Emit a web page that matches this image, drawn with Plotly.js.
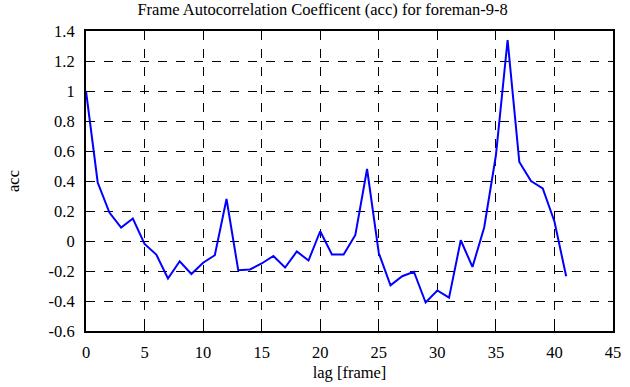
<!DOCTYPE html>
<html>
<head>
<meta charset="utf-8">
<script src="https://cdn.plot.ly/plotly-3.0.1.min.js"></script>
<style>html,body{margin:0;padding:0;background:#fff;}#chart{width:630px;height:387px;}</style>
</head>
<body>
<div id="chart"></div>
<script>
var lags = [0,1,2,3,4,5,6,7,8,9,10,11,12,13,14,15,16,17,18,19,20,21,22,23,24,25,26,27,28,29,30,31,32,33,34,35,36,37,38,39,40,41];
var acc = [1.0,0.39,0.19,0.09,0.15,-0.02,-0.09,-0.25,-0.135,-0.22,-0.145,-0.095,0.28,-0.195,-0.19,-0.15,-0.10,-0.177,-0.07,-0.13,0.065,-0.09,-0.09,0.04,0.48,-0.08,-0.295,-0.235,-0.205,-0.41,-0.33,-0.378,0.005,-0.173,0.09,0.57,1.34,0.527,0.40,0.35,0.13,-0.235];
var xTickVals = [0,5,10,15,20,25,30,35,40,45];
var xTickText = ["0","5","10","15","20","25","30","35","40","45"];
var yTickVals = [1.4,1.2,1,0.8,0.6,0.4,0.2,0,-0.2,-0.4,-0.6];
var yTickText = ["1.4","1.2","1","0.8","0.6","0.4","0.2","0","-0.2","-0.4","-0.6"];
var titleText = "Frame Autocorrelation Coefficent (acc) for foreman-9-8";
var xTitle = "lag [frame]";
var yTitle = "acc";

function serif() { return {family: "Liberation Serif", size: 16.5, color: "#000"}; }
function axisCommon() {
  return {
    showline: true, linecolor: "#000", linewidth: 2, mirror: "ticks",
    ticks: "inside", ticklen: 5, tickwidth: 1, tickcolor: "#000",
    showgrid: true, gridcolor: "#000", gridwidth: 1, griddash: "dash",
    zeroline: false, tickfont: serif()
  };
}
var layout = {
  width: 630, height: 387,
  margin: {l: 86, r: 17, t: 31, b: 56},
  paper_bgcolor: "#fff", plot_bgcolor: "#fff",
  font: serif(),
  showlegend: false,
  title: {text: titleText, font: serif(), x: 0.512, xanchor: "center", y: 0.975, yanchor: "middle"},
  xaxis: Object.assign(axisCommon(), {
    range: [0, 45], tickmode: "array", tickvals: xTickVals, ticktext: xTickText,
    ticklabelstandoff: 5,
    title: {text: xTitle, font: serif(), standoff: 6}
  }),
  yaxis: Object.assign(axisCommon(), {
    range: [-0.6, 1.4], tickmode: "array", tickvals: yTickVals, ticktext: yTickText,
    ticklabelstandoff: 6,
    title: {text: yTitle, font: serif(), standoff: 25}
  })
};
var trace = {x: lags, y: acc, type: "scatter", mode: "lines", line: {color: "#0000ff", width: 2}};
Plotly.newPlot("chart", [trace], layout, {staticPlot: true, displayModeBar: false});
</script>
</body>
</html>
